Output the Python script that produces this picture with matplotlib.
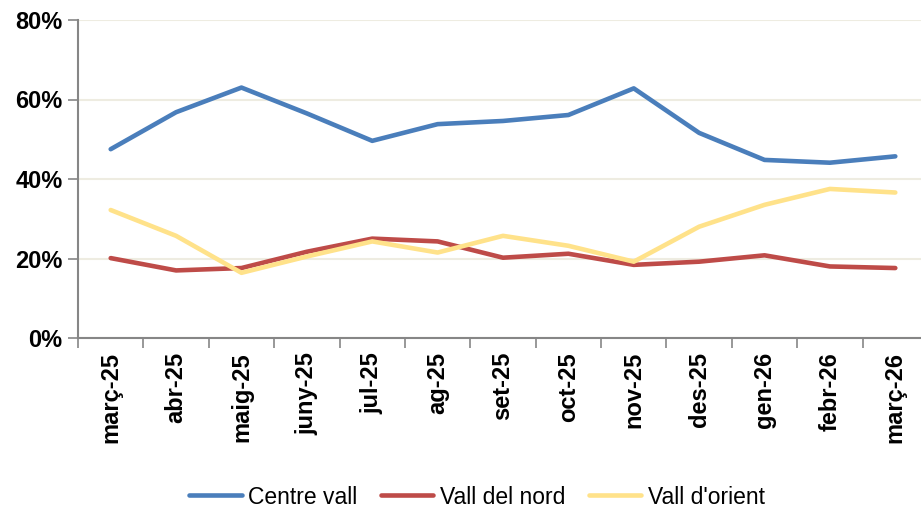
import numpy as np
import matplotlib.pyplot as plt
from matplotlib.ticker import FixedLocator, PercentFormatter

months = ['març-25', 'abr-25', 'maig-25', 'juny-25', 'jul-25', 'ag-25', 'set-25',
          'oct-25', 'nov-25', 'des-25', 'gen-26', 'febr-26', 'març-26']
centre_vall = [47.5, 56.8, 63.0, 56.5, 49.6, 53.8, 54.6, 56.1, 62.8, 51.6, 44.8, 44.1, 45.7]
vall_nord = [20.1, 17.0, 17.6, 21.7, 25.0, 24.3, 20.2, 21.2, 18.4, 19.2, 20.8, 18.0, 17.6]
vall_orient = [32.2, 25.7, 16.4, 20.5, 24.3, 21.5, 25.7, 23.2, 19.2, 28.0, 33.5, 37.5, 36.6]

plt.rcParams['font.family'] = ['Liberation Sans', 'DejaVu Sans']

fig = plt.figure(figsize=(9.21, 5.08), dpi=100)
ax = fig.add_axes([78/921, 1-338/508, 850/921, 318/508])

x = np.arange(len(months))
ax.plot(x, centre_vall, color='#4A7EBB', lw=3.3, label='Centre vall', solid_capstyle='round')
ax.plot(x, vall_nord, color='#BE4B48', lw=3.3, label='Vall del nord', solid_capstyle='round')
ax.plot(x, vall_orient, color='#FFE28A', lw=3.3, label="Vall d'orient", solid_capstyle='round')

ax.set_xlim(-0.5, len(months) - 0.5)
ax.set_ylim(0, 80)
ax.set_yticks([0, 20, 40, 60, 80])
ax.yaxis.set_major_formatter(PercentFormatter(decimals=0))
ax.grid(axis='y', color='#EEECE1', lw=1.5)
ax.set_axisbelow(True)

ax.set_xticks(x)
ax.set_xticklabels(months, rotation=90, fontweight='bold', fontsize=17)
ax.xaxis.set_minor_locator(FixedLocator(np.arange(-0.5, len(months), 1)))
ax.tick_params(axis='x', which='major', length=0, pad=10)
ax.tick_params(axis='x', which='minor', length=7, color='#868686', width=1.2)
ax.tick_params(axis='y', length=7, color='#868686', width=1.2, labelsize=17, pad=4)
for lab in ax.get_yticklabels():
    lab.set_fontweight('bold')

for s in ['top', 'right']:
    ax.spines[s].set_visible(False)
for s in ['left', 'bottom']:
    ax.spines[s].set_color('#868686')
    ax.spines[s].set_linewidth(1.5)

fig.legend(loc='center', bbox_to_anchor=(477/921, 1-497/508), ncol=3, frameon=False,
           fontsize=16.5, handlelength=2.3, columnspacing=1.0, handletextpad=0.3)

fig.savefig('out.png', dpi=100)
